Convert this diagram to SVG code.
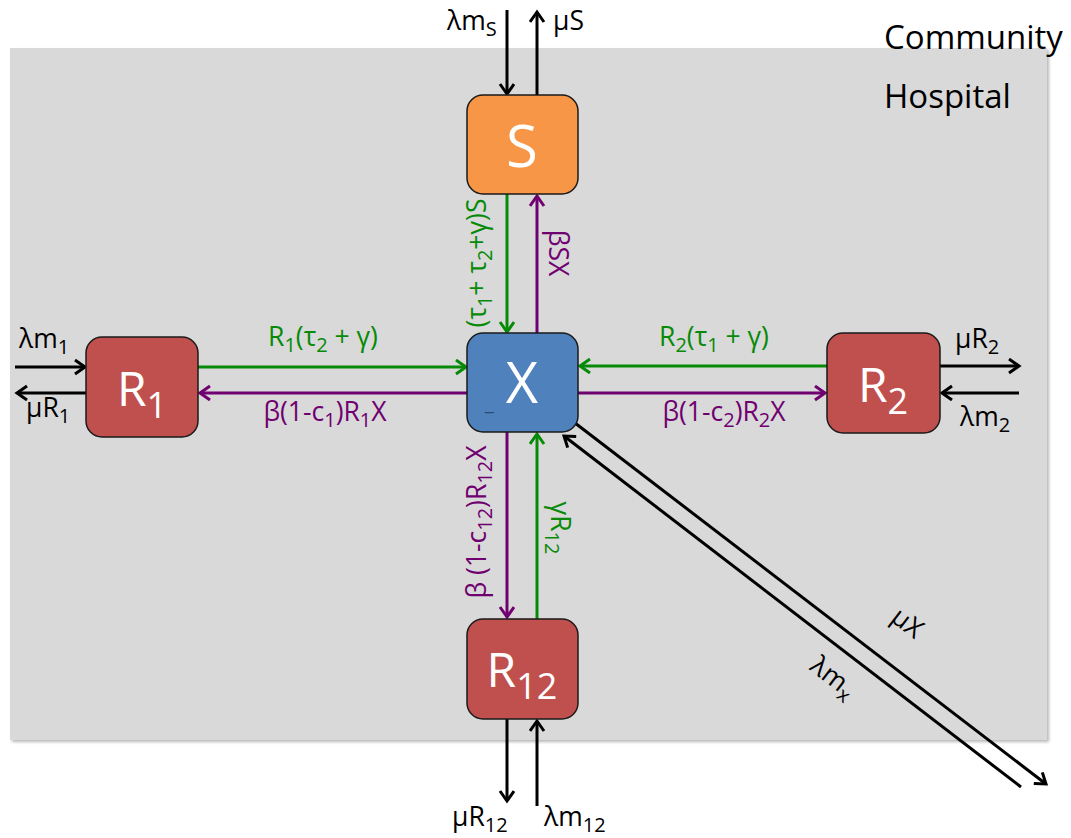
<svg xmlns="http://www.w3.org/2000/svg" width="1071" height="838" viewBox="0 0 1071 838">
  <style>
    text { font-family: "Open Sans", "Noto Sans", "DejaVu Sans", sans-serif; }
    .node rect { stroke: #1a1a1a; stroke-width: 1.5; }
    .nlabel { fill: #ffffff; text-anchor: middle; }
    .lbl text { font-size: 26.5px; }
    .sub { font-size: 20px; }
    .blk { fill: #000000; }
    .grn { fill: #078a07; }
    .pur { fill: #700070; }
    .c-blk { stroke: #000000; stroke-width: 3; fill: none; }
    .c-grn { stroke: #078a07; stroke-width: 3; fill: none; }
    .c-pur { stroke: #700070; stroke-width: 3; fill: none; }
  </style>
  <defs>
    <marker id="ah-blk" markerUnits="userSpaceOnUse" markerWidth="16" markerHeight="18" refX="12" refY="8" orient="auto" viewBox="0 0 16 18">
      <path d="M2,1 L12,8 L2,15" fill="none" stroke="#000000" stroke-width="3" stroke-linejoin="miter"/>
    </marker>
    <marker id="ah-grn" markerUnits="userSpaceOnUse" markerWidth="16" markerHeight="18" refX="12" refY="8" orient="auto" viewBox="0 0 16 18">
      <path d="M2,1 L12,8 L2,15" fill="none" stroke="#078a07" stroke-width="3" stroke-linejoin="miter"/>
    </marker>
    <marker id="ah-pur" markerUnits="userSpaceOnUse" markerWidth="16" markerHeight="18" refX="12" refY="8" orient="auto" viewBox="0 0 16 18">
      <path d="M2,1 L12,8 L2,15" fill="none" stroke="#700070" stroke-width="3" stroke-linejoin="miter"/>
    </marker>
    <filter id="soft" x="-5%" y="-5%" width="110%" height="110%">
      <feGaussianBlur stdDeviation="1.5"/>
    </filter>
  </defs>

  <!-- hospital area -->
  <g id="hospital">
    <rect x="12" y="50" width="1037" height="692" fill="#b8b8b8" filter="url(#soft)"/>
    <rect x="10" y="48" width="1037" height="692" fill="#d9d9d9"/>
  </g>
  <text x="884" y="49" font-size="33" class="blk">Community</text>
  <text x="884" y="108" font-size="33" class="blk">Hospital</text>

  <!-- connectors -->
  <g id="connectors">
    <!-- S inflow / outflow -->
    <line x1="507" y1="10" x2="507" y2="94" class="c-blk" marker-end="url(#ah-blk)"/>
    <line x1="537" y1="95" x2="537" y2="12" class="c-blk" marker-end="url(#ah-blk)"/>
    <!-- S <-> X -->
    <line x1="507" y1="194" x2="507" y2="332" class="c-grn" marker-end="url(#ah-grn)"/>
    <line x1="537" y1="333" x2="537" y2="196" class="c-pur" marker-end="url(#ah-pur)"/>
    <!-- R1 <-> X -->
    <line x1="198" y1="367" x2="466" y2="367" class="c-grn" marker-end="url(#ah-grn)"/>
    <line x1="467" y1="393" x2="200" y2="393" class="c-pur" marker-end="url(#ah-pur)"/>
    <!-- R1 inflow / outflow -->
    <line x1="15" y1="367" x2="85" y2="367" class="c-blk" marker-end="url(#ah-blk)"/>
    <line x1="86" y1="393" x2="17" y2="393" class="c-blk" marker-end="url(#ah-blk)"/>
    <!-- R2 <-> X -->
    <line x1="827" y1="366" x2="580" y2="366" class="c-grn" marker-end="url(#ah-grn)"/>
    <line x1="578" y1="393" x2="825" y2="393" class="c-pur" marker-end="url(#ah-pur)"/>
    <!-- R2 outflow / inflow -->
    <line x1="940" y1="366" x2="1019" y2="366" class="c-blk" marker-end="url(#ah-blk)"/>
    <line x1="1019" y1="393" x2="942" y2="393" class="c-blk" marker-end="url(#ah-blk)"/>
    <!-- X <-> R12 -->
    <line x1="507" y1="432" x2="507" y2="617" class="c-pur" marker-end="url(#ah-pur)"/>
    <line x1="537" y1="619" x2="537" y2="434" class="c-grn" marker-end="url(#ah-grn)"/>
    <!-- R12 outflow / inflow -->
    <line x1="507" y1="719" x2="507" y2="801" class="c-blk" marker-end="url(#ah-blk)"/>
    <line x1="537" y1="806" x2="537" y2="721" class="c-blk" marker-end="url(#ah-blk)"/>
    <!-- X outflow / inflow (diagonal) -->
    <line x1="575" y1="423" x2="1046" y2="784" class="c-blk" marker-end="url(#ah-blk)"/>
    <line x1="1021" y1="787" x2="564" y2="436" class="c-blk" marker-end="url(#ah-blk)"/>
  </g>

  <!-- nodes -->
  <g id="node-S" class="node">
    <rect x="467" y="95" width="111" height="99" rx="16" fill="#f79646"/>
    <text x="522" y="167" font-size="58" class="nlabel">S</text>
  </g>
  <g id="node-X" class="node">
    <rect x="467" y="333" width="111" height="99" rx="16" fill="#4f81bd"/>
    <text x="522" y="403" font-size="56" class="nlabel">X</text>
    <text x="485" y="410" font-size="20" fill="#2c4a6e">_</text>
  </g>
  <g id="node-R1" class="node">
    <rect x="86" y="337" width="112" height="100" rx="16" fill="#c0504d"/>
    <text x="142" y="406" font-size="48" class="nlabel">R<tspan font-size="36" dy="12">1</tspan></text>
  </g>
  <g id="node-R2" class="node">
    <rect x="827" y="333" width="113" height="100" rx="16" fill="#c0504d"/>
    <text x="883" y="402" font-size="48" class="nlabel">R<tspan font-size="36" dy="12">2</tspan></text>
  </g>
  <g id="node-R12" class="node">
    <rect x="467" y="619" width="111" height="100" rx="16" fill="#c0504d"/>
    <text x="522" y="687" font-size="48" class="nlabel">R<tspan font-size="36" dy="12">12</tspan></text>
  </g>

  <!-- flow labels -->
  <g id="labels" class="lbl">
    <!-- S -->
    <text x="447" y="30" class="blk">λm<tspan class="sub" dy="6">S</tspan></text>
    <text x="553" y="30" class="blk">μS</text>
    <text transform="translate(486,263) rotate(-90)" text-anchor="middle" class="grn">(τ<tspan class="sub" dy="6">1</tspan><tspan dy="-6">+ τ</tspan><tspan class="sub" dy="6">2</tspan><tspan dy="-6">+γ)S</tspan></text>
    <text transform="translate(549,253) rotate(90)" text-anchor="middle" class="pur">βSX</text>
    <!-- R1 -->
    <text x="19" y="348" class="blk">λm<tspan class="sub" dy="6">1</tspan></text>
    <text x="26" y="417" class="blk">μR<tspan class="sub" dy="6">1</tspan></text>
    <text x="323" y="346" text-anchor="middle" class="grn">R<tspan class="sub" dy="6">1</tspan><tspan dy="-6">(τ</tspan><tspan class="sub" dy="6">2</tspan><tspan dy="-6"> + γ)</tspan></text>
    <text x="325" y="421" text-anchor="middle" class="pur">β(1-c<tspan class="sub" dy="6">1</tspan><tspan dy="-6">)R</tspan><tspan class="sub" dy="6">1</tspan><tspan dy="-6">X</tspan></text>
    <!-- R2 -->
    <text x="714" y="346" text-anchor="middle" class="grn">R<tspan class="sub" dy="6">2</tspan><tspan dy="-6">(τ</tspan><tspan class="sub" dy="6">1</tspan><tspan dy="-6"> + γ)</tspan></text>
    <text x="724" y="421" text-anchor="middle" class="pur">β(1-c<tspan class="sub" dy="6">2</tspan><tspan dy="-6">)R</tspan><tspan class="sub" dy="6">2</tspan><tspan dy="-6">X</tspan></text>
    <text x="955" y="348" class="blk">μR<tspan class="sub" dy="6">2</tspan></text>
    <text x="960" y="426" class="blk">λm<tspan class="sub" dy="6">2</tspan></text>
    <!-- R12 -->
    <text transform="translate(486,522) rotate(-90)" text-anchor="middle" class="pur">β (1-c<tspan class="sub" dy="6">12</tspan><tspan dy="-6">)R</tspan><tspan class="sub" dy="6">12</tspan><tspan dy="-6">X</tspan></text>
    <text transform="translate(551,528) rotate(90)" text-anchor="middle" class="grn">γR<tspan class="sub" dy="6">12</tspan></text>
    <text x="452" y="826" class="blk">μR<tspan class="sub" dy="6">12</tspan></text>
    <text x="544" y="826" class="blk">λm<tspan class="sub" dy="6">12</tspan></text>
    <!-- X diagonal -->
    <text transform="translate(902,630) rotate(37.5)" text-anchor="middle" class="blk">μX</text>
    <text transform="translate(828,684) rotate(37.5)" text-anchor="middle" class="blk">λm<tspan class="sub" dy="6">x</tspan></text>
  </g>
</svg>
